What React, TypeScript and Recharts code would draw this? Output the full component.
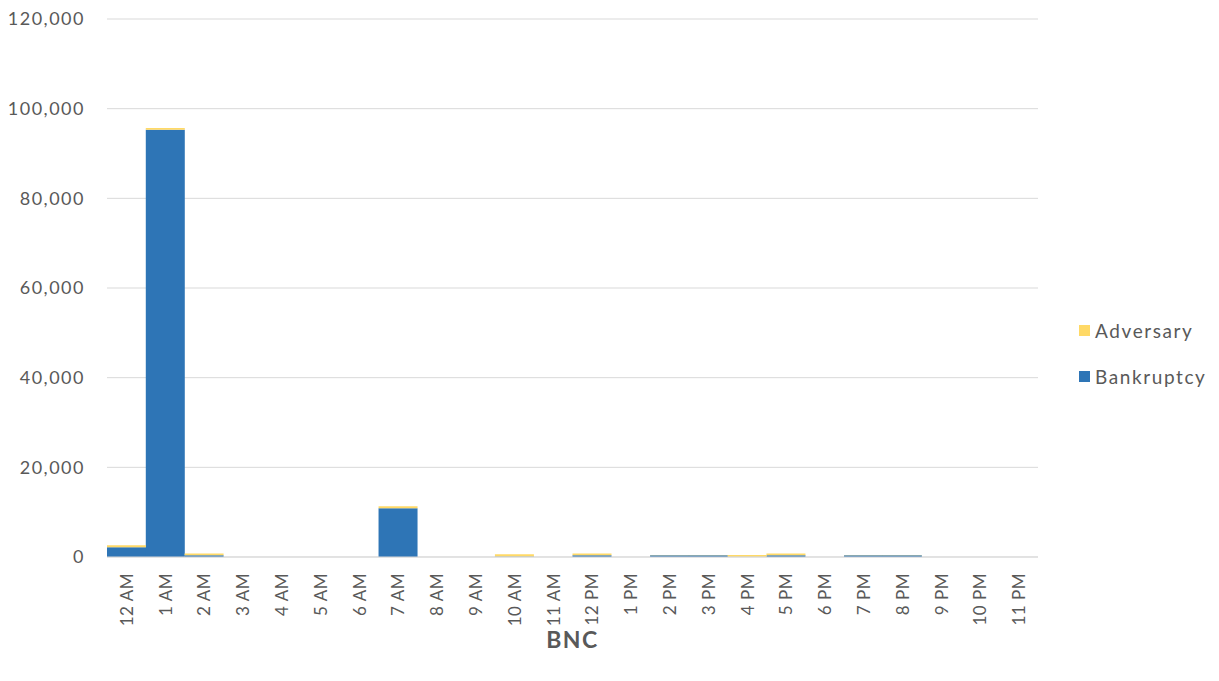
import { BarChart, Bar, XAxis, YAxis, CartesianGrid, Legend } from "recharts";

const hours = [
  "12 AM", "1 AM", "2 AM", "3 AM", "4 AM", "5 AM", "6 AM", "7 AM", "8 AM", "9 AM", "10 AM", "11 AM",
  "12 PM", "1 PM", "2 PM", "3 PM", "4 PM", "5 PM", "6 PM", "7 PM", "8 PM", "9 PM", "10 PM", "11 PM",
];
const bankruptcy = [2200, 95300, 400, 0, 0, 0, 0, 10900, 0, 0, 100, 0, 400, 0, 400, 400, 50, 400, 0, 400, 400, 0, 0, 0];
const adversary = [400, 400, 400, 0, 0, 0, 0, 400, 0, 0, 500, 0, 400, 0, 50, 50, 400, 400, 0, 50, 50, 0, 0, 0];
const yTicks = [0, 20000, 40000, 60000, 80000, 100000, 120000];

const COLORS = { bankruptcy: "#2E75B6", adversary: "#FFD966" };
const FONT = "Lato, 'Open Sans', sans-serif";
const GREY = "#595959";

const data = hours.map((h, i) => ({ hour: h, bankruptcy: bankruptcy[i], adversary: adversary[i] }));

function HourTick({ x, y, payload }: any) {
  return (
    <text
      x={x}
      y={y + 8}
      transform={`rotate(-90, ${x}, ${y + 8})`}
      textAnchor="end"
      dominantBaseline="central"
      fill={GREY}
      fontSize={17}
      letterSpacing={0.5}
      fontFamily={FONT}
    >
      {payload.value}
    </text>
  );
}

function LegendBox() {
  const items = [
    { name: "Adversary", color: COLORS.adversary },
    { name: "Bankruptcy", color: COLORS.bankruptcy },
  ];
  return (
    <div style={{ fontFamily: FONT, fontSize: 19, letterSpacing: 1.6, color: GREY }}>
      {items.map((it) => (
        <div key={it.name} style={{ display: "flex", alignItems: "center", height: 46 }}>
          <span style={{ width: 11, height: 11, background: it.color, marginRight: 5 }} />
          {it.name}
        </div>
      ))}
    </div>
  );
}

export default function App() {
  return (
    <div style={{ position: "absolute", left: 0, top: 0, background: "#fff" }}>
      <BarChart
        width={1219}
        height={681}
        data={data}
        margin={{ top: 19, right: 41, left: 0, bottom: 0 }}
        barCategoryGap={0}
      >
        <CartesianGrid vertical={false} stroke="#D9D9D9" strokeWidth={1} />
        <XAxis
          dataKey="hour"
          interval={0}
          tick={<HourTick />}
          tickLine={false}
          axisLine={{ stroke: "#D9D9D9" }}
          height={124}
          label={{
            value: "BNC",
            position: "insideBottom",
            offset: 33,
            fill: GREY,
            fontSize: 23,
            fontWeight: 700,
            letterSpacing: 1.5,
            fontFamily: FONT,
          }}
        />
        <YAxis
          domain={[0, 120000]}
          ticks={yTicks}
          width={107}
          axisLine={false}
          tickLine={false}
          tickSize={0}
          tickMargin={22}
          tick={{ fill: GREY, fontSize: 18, fontFamily: FONT, letterSpacing: 1.5 }}
          tickFormatter={(v: number) => v.toLocaleString("en-US")}
        />
        <Legend
          layout="vertical"
          align="right"
          verticalAlign="middle"
          content={<LegendBox />}
          wrapperStyle={{ width: 140, right: 0, top: 307 }}
        />
        <Bar dataKey="bankruptcy" name="Bankruptcy" stackId="a" fill={COLORS.bankruptcy} isAnimationActive={false} />
        <Bar dataKey="adversary" name="Adversary" stackId="a" fill={COLORS.adversary} isAnimationActive={false} />
      </BarChart>
    </div>
  );
}
